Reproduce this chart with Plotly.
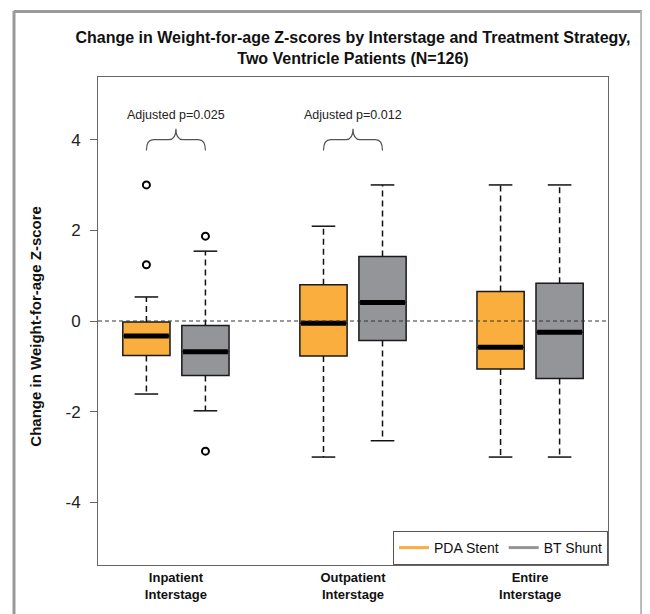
import plotly.graph_objects as go

# ---- data ----
groups = ["Inpatient<br>Interstage", "Outpatient<br>Interstage", "Entire<br>Interstage"]
series_names = ["PDA Stent", "BT Shunt"]

pda_lo = [-1.61, -3.00, -3.00]
pda_q1 = [-0.76, -0.77, -1.06]
pda_med = [-0.33, -0.05, -0.58]
pda_q3 = [-0.02, 0.80, 0.65]
pda_hi = [0.53, 2.09, 3.00]
pda_out = [[3.00, 1.24], [], []]

bt_lo = [-1.98, -2.64, -3.00]
bt_q1 = [-1.20, -0.43, -1.27]
bt_med = [-0.68, 0.41, -0.25]
bt_q3 = [-0.10, 1.42, 0.83]
bt_hi = [1.54, 3.00, 3.00]
bt_out = [[1.87, -2.87], [], []]

p_labels = ["Adjusted p=0.025", "Adjusted p=0.012", None]
y_ticks = [-4, -2, 0, 2, 4]

# ---- styling ----
FONT = "Liberation Sans, Arial, sans-serif"
colors = ["#F9AE3D", "#939598"]
BOXW = 0.8
CAPW = 0.4

series = [
    dict(lo=pda_lo, q1=pda_q1, med=pda_med, q3=pda_q3, hi=pda_hi, out=pda_out),
    dict(lo=bt_lo, q1=bt_q1, med=bt_med, q3=bt_q3, hi=bt_hi, out=bt_out),
]

fig = go.Figure()

for j, s in enumerate(series):
    pos = [3 * i + 1 + j for i in range(len(groups))]
    # whiskers (dashed)
    wx, wy = [], []
    for i, p in enumerate(pos):
        wx += [p, p, None, p, p, None]
        wy += [s["q3"][i], s["hi"][i], None, s["q1"][i], s["lo"][i], None]
    fig.add_trace(go.Scatter(x=wx, y=wy, mode="lines", showlegend=False, hoverinfo="skip",
                             line=dict(color="#111", width=1.5, dash="6px,4px")))
    # caps
    cx, cy = [], []
    for i, p in enumerate(pos):
        cx += [p - CAPW / 2, p + CAPW / 2, None, p - CAPW / 2, p + CAPW / 2, None]
        cy += [s["hi"][i], s["hi"][i], None, s["lo"][i], s["lo"][i], None]
    fig.add_trace(go.Scatter(x=cx, y=cy, mode="lines", showlegend=False, hoverinfo="skip",
                             line=dict(color="#111", width=1.5)))
    # boxes
    fig.add_trace(go.Box(x=pos, q1=s["q1"], median=s["med"], q3=s["q3"],
                         lowerfence=s["q1"], upperfence=s["q3"],
                         width=BOXW, whiskerwidth=0, boxpoints=False,
                         fillcolor=colors[j], line=dict(color="#1a1a1a", width=1.5),
                         showlegend=False, hoverinfo="skip"))
    # thick medians
    mx, my = [], []
    for i, p in enumerate(pos):
        mx += [p - BOXW / 2 + 0.02, p + BOXW / 2 - 0.02, None]
        my += [s["med"][i], s["med"][i], None]
    fig.add_trace(go.Scatter(x=mx, y=my, mode="lines", showlegend=False, hoverinfo="skip",
                             line=dict(color="#000", width=5)))
    # outliers
    ox, oy = [], []
    for i, p in enumerate(pos):
        for v in s["out"][i]:
            ox.append(p)
            oy.append(v)
    fig.add_trace(go.Scatter(x=ox, y=oy, mode="markers", showlegend=False, hoverinfo="skip",
                             marker=dict(symbol="circle-open", size=7, color="#000",
                                         line=dict(width=2, color="#000"))))

# legend entries
for j, name in enumerate(series_names):
    fig.add_trace(go.Scatter(x=[None], y=[None], mode="lines", name=name,
                             line=dict(color=colors[j], width=3)))

# zero reference line
fig.add_shape(type="line", xref="paper", x0=0, x1=1, yref="y", y0=0, y1=0,
              line=dict(color="#333", width=1, dash="4px,3px"), layer="above")

# p-value annotations with braces
for i, lab in enumerate(p_labels):
    if lab is None:
        continue
    x1, x2 = 3 * i + 1, 3 * i + 2
    xm = (x1 + x2) / 2
    d = 0.12
    yb, ym, yt = 3.76, 4.0, 4.24
    path = (f"M {x1},{yb} Q {x1},{ym} {x1 + d},{ym} L {xm - d},{ym} "
            f"Q {xm},{ym} {xm},{yt} Q {xm},{ym} {xm + d},{ym} "
            f"L {x2 - d},{ym} Q {x2},{ym} {x2},{yb}")
    fig.add_shape(type="path", xref="x", yref="y", path=path,
                  line=dict(color="#555", width=1.2))
    fig.add_annotation(x=xm, y=4.55, xref="x", yref="y", text=lab, showarrow=False,
                       xanchor="center",
                       font=dict(family=FONT, size=12.5, color="#222"))

# y-axis title
fig.add_annotation(x=-0.122, y=0.49, xref="paper", yref="paper", textangle=-90,
                   xanchor="center", yanchor="middle",
                   text="<b>Change in Weight-for-age Z-score</b>", showarrow=False,
                   font=dict(family=FONT, size=15, color="#111"))

# outer gray frame (screenshot border)
fig.add_shape(type="line", xref="paper", yref="paper", x0=-0.1647, x1=-0.1647, y0=1.136, y1=-0.2,
              line=dict(color="#9a9a9a", width=3))
fig.add_shape(type="line", xref="paper", yref="paper", x0=-0.1647, x1=1.067, y0=1.134, y1=1.134,
              line=dict(color="#9a9a9a", width=3))
fig.add_shape(type="line", xref="paper", yref="paper", x0=1.065, x1=1.065, y0=1.136, y1=-0.2,
              line=dict(color="#b5b5b5", width=2))
fig.add_shape(type="rect", xref="paper", yref="paper", x0=1.073, x1=1.1, y0=1.118, y1=-0.2,
              line=dict(width=0), fillcolor="#d2d2d2")

fig.update_layout(
    width=642, height=606,
    margin=dict(l=90, r=42, t=69, b=46),
    paper_bgcolor="white", plot_bgcolor="white",
    font=dict(family=FONT, color="#111"),
    title=dict(text="<b>Change in Weight-for-age Z-scores by Interstage and Treatment Strategy,</b><br>"
                    "<b>Two Ventricle Patients (N=126)</b>",
               x=0.5, xref="paper", xanchor="center",
               y=1 - 35 / 606, yref="container", yanchor="top",
               font=dict(family=FONT, size=16, color="#111")),
    xaxis=dict(range=[0.18, 8.82], tickvals=[1.5, 4.5, 7.5],
               ticktext=[f"<b>{g}</b>" for g in groups],
               showline=True, mirror=True, linecolor="#666", linewidth=1,
               showgrid=False, zeroline=False, ticks="",
               tickfont=dict(family=FONT, size=13, color="#111")),
    yaxis=dict(range=[-5.38, 5.38], tickvals=y_ticks, ticktext=[str(t) for t in y_ticks],
               showline=True, mirror=True, linecolor="#666", linewidth=1,
               showgrid=False, zeroline=False, ticks="outside", ticklen=7, tickcolor="#666",
               ticklabelstandoff=6,
               tickfont=dict(family=FONT, size=17, color="#222")),
    legend=dict(orientation="h", x=1, xanchor="right", y=0, yanchor="bottom",
                bgcolor="white", bordercolor="#555", borderwidth=1,
                font=dict(family=FONT, size=14, color="#111")),
    showlegend=True,
)

fig.write_html("out.html")
